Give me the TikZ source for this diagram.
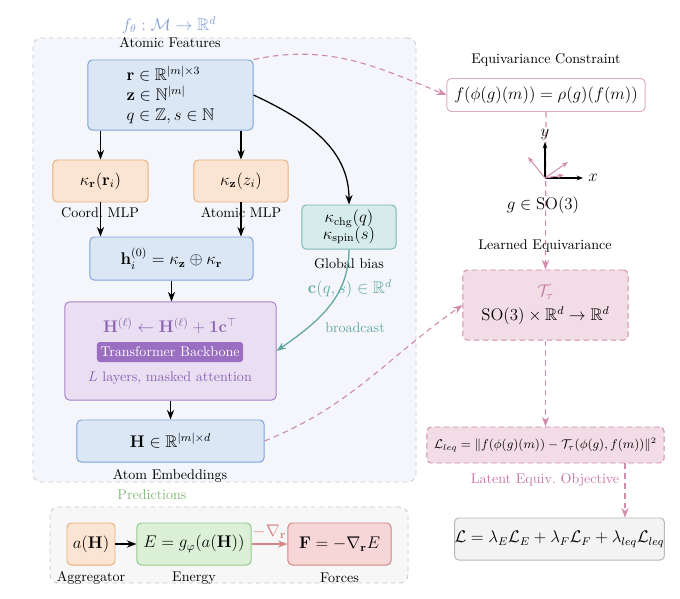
\documentclass[tikz,border=0pt]{standalone}
\usepackage{amsmath,amssymb}
\usetikzlibrary{positioning,arrows.meta,calc}

\begin{document}
\begin{tikzpicture}[x=0.025cm,y=-0.025cm,
  box/.style={draw, rounded corners=3pt, line width=0.7pt, inner sep=0pt, font=\large},
  grp/.style={draw=grpc, dashed, rounded corners=6pt, line width=0.6pt},
  conn/.style={-{Stealth[length=2.4mm]}, line width=0.9pt},
  pdash/.style={-{Stealth[length=2.4mm]}, line width=0.8pt, dash pattern=on 4pt off 3pt, draw=pinkc},
  pbox/.style={box, dash pattern=on 4pt off 2.5pt, draw=pinkc, fill=pinkf},
  lab/.style={font=\normalsize, text=black}]

\definecolor{encbg}{RGB}{244,246,251}
\definecolor{predbg}{RGB}{247,247,247}
\definecolor{grpc}{RGB}{200,200,205}
\definecolor{bluef}{RGB}{219,231,245}
\definecolor{bluec}{RGB}{126,163,214}
\definecolor{orangef}{RGB}{251,229,210}
\definecolor{orangec}{RGB}{232,176,124}
\definecolor{tealf}{RGB}{214,236,235}
\definecolor{tealc}{RGB}{122,184,181}
\definecolor{tealt}{RGB}{95,168,163}
\definecolor{purplef}{RGB}{233,222,242}
\definecolor{purplec}{RGB}{168,132,200}
\definecolor{purpleb}{RGB}{154,110,192}
\definecolor{purplet}{RGB}{140,100,180}
\definecolor{greenf}{RGB}{220,240,216}
\definecolor{greenc}{RGB}{150,200,140}
\definecolor{greent}{RGB}{130,185,120}
\definecolor{redf}{RGB}{246,214,214}
\definecolor{redc}{RGB}{212,134,134}
\definecolor{pinkc}{RGB}{208,140,172}
\definecolor{pinkb}{RGB}{222,172,196}
\definecolor{pinkf}{RGB}{242,220,230}
\definecolor{pinkt}{RGB}{200,120,165}
\definecolor{titleblue}{RGB}{130,160,215}
\definecolor{grayf}{RGB}{243,243,243}
\definecolor{grayc}{RGB}{185,185,185}

\useasboundingbox (0,0) rectangle (680,599);

% ===== GROUPS =====
\node[grp, fill=encbg, minimum width=9.575cm, minimum height=11.1cm] (enc) at (224.5,260) {};
\node[grp, fill=predbg, minimum width=8.95cm, minimum height=1.9cm] (pred) at (229,545) {};
\node[text=titleblue, font=\large] (ftitle) at (169,25) {$f_\theta:\mathcal{M}\to\mathbb{R}^d$};
\node[lab] (encl) at (170,43) {Atomic Features};

% ===== INPUTS =====
\node[box, draw=bluec, fill=bluef, minimum width=4.125cm, minimum height=1.75cm, align=left] (in) at (170.5,95)
  {$\mathbf{r}\in\mathbb{R}^{|m|\times 3}$\\$\mathbf{z}\in\mathbb{N}^{|m|}$\\$q\in\mathbb{Z}, s\in\mathbb{N}$};

% ===== EMBEDDING MLPs =====
\node[box, draw=orangec, fill=orangef, minimum width=2.375cm, minimum height=1.05cm] (kr) at (100.5,181) {$\kappa_{\mathbf{r}}(\mathbf{r}_i)$};
\node[box, draw=orangec, fill=orangef, minimum width=2.35cm, minimum height=1.05cm] (kz) at (241,181) {$\kappa_{\mathbf{z}}(z_i)$};
\node[lab] (krl) at (100,213) {Coord.\ MLP};
\node[lab] (kzl) at (241,213) {Atomic MLP};
\node[box, draw=bluec, fill=bluef, minimum width=4.075cm, minimum height=1.075cm] (h) at (171.5,258.5) {$\mathbf{h}_i^{(0)}=\kappa_{\mathbf{z}}\oplus\kappa_{\mathbf{r}}$};

% ===== GLOBAL BIAS =====
\node[box, draw=tealc, fill=tealf, minimum width=2.35cm, minimum height=1.1cm, align=center] (gb) at (349,227)
  {$\kappa_{\mathrm{chg}}(q)$\\[-2pt]$\kappa_{\mathrm{spin}}(s)$};
\node[lab] (gbl) at (349,264) {Global bias};
\node[text=tealt, font=\large] (cqs) at (350,289) {$\mathbf{c}(q,s)\in\mathbb{R}^d$};
\node[text=tealt] (bcl) at (355,328) {broadcast};

% ===== TRANSFORMER =====
\node[box, draw=purplec, fill=purplef, minimum width=5.275cm, minimum height=2.45cm] (tr) at (170.5,351) {};
\node[text=purplet, font=\large] (trupd) at (170,326) {$\mathbf{H}^{(\ell)}\leftarrow\mathbf{H}^{(\ell)}+\mathbf{1}\mathbf{c}^{\top}$};
\node[fill=purpleb, text=white, rounded corners=2pt, inner sep=0pt, minimum width=3.65cm, minimum height=0.5cm] (trname) at (170,352) {Transformer Backbone};
\node[text=purplet] (trlay) at (170,378) {$L$ layers, masked attention};

\node[box, draw=bluec, fill=bluef, minimum width=4.675cm, minimum height=1.05cm] (H) at (170.5,441) {$\mathbf{H}\in\mathbb{R}^{|m|\times d}$};
\node[lab] (Hl) at (170,476) {Atom Embeddings};

% ===== PREDICTIONS =====
\node[text=greent] (predl) at (152,495) {Predictions};
\node[box, draw=orangec, fill=orangef, minimum width=1.2cm, minimum height=1.05cm] (agg) at (91,544) {$a(\mathbf{H})$};
\node[box, draw=greenc, fill=greenf, minimum width=2.85cm, minimum height=1.05cm] (en) at (194,544) {$E=g_\varphi(a(\mathbf{H}))$};
\node[box, draw=redc, fill=redf, minimum width=2.575cm, minimum height=1.05cm] (frc) at (339.5,544) {$\mathbf{F}=-\nabla_{\mathbf{r}}E$};
\node[lab] (aggl) at (91,578) {Aggregator};
\node[lab] (enl) at (194,578) {Energy};
\node[lab] (frcl) at (339.5,578) {Forces};

% ===== EQUIVARIANCE =====
\node[lab] (consl) at (546,60) {Equivariance Constraint};
\node[box, draw=pinkb, fill=white, minimum width=4.95cm, minimum height=0.825cm] (cons) at (546,95) {$f(\phi(g)(m))=\rho(g)(f(m))$};
\node[pbox, minimum width=4.125cm, minimum height=1.75cm, align=center] (tau) at (545.5,305)
  {{\color{pinkt}$\mathcal{T}_\tau$}\\[3pt]$\mathrm{SO}(3)\times\mathbb{R}^d\to\mathbb{R}^d$};
\node[pbox, font=\small, minimum width=5.925cm, minimum height=0.9cm] (leq) at (545.5,445)
  {$\mathcal{L}_{leq}=\lVert f(\phi(g)(m))-\mathcal{T}_\tau(\phi(g),f(m))\rVert^2$};
\node[text=pinkt] (leql) at (545,480) {Latent Equiv.\ Objective};
\node[box, draw=grayc, fill=grayf, minimum width=5.075cm, minimum height=1.05cm] (loss) at (559.5,539)
  {$\mathcal{L}=\lambda_E\mathcal{L}_E+\lambda_F\mathcal{L}_F+\lambda_{leq}\mathcal{L}_{leq}$};

% ===== CONNECTIONS =====
\draw[conn] (in.south -| kr) -- (kr.north);
\draw[conn] (in.south -| kz) -- (kz.north);
\draw[conn] (kr.south) -- (h.north -| kr);
\draw[conn] (kz.south) -- (h.north -| kz);
\draw[conn] (h.south) -- (tr.north -| h.south);
\draw[conn] (tr.south) -- (H.north);
\draw[conn] (in.east) to[out=-25,in=90] (gb.north);
\draw[conn, draw=tealt] (gb.south) to[out=-90,in=35] (tr.east);
\draw[conn, line width=1.1pt] (agg) -- (en);
\draw[conn, draw=redc] (en) -- node[above, text=redc, font=\large] {$-\nabla_{\mathbf{r}}$} (frc);

% equivariance links
\draw[pdash] (in.north east) to[out=12,in=158] (cons.west);
\draw[pdash] (H.east) to[out=22,in=215] (tau.west);
\draw[pdash] (cons.south) -- (tau.north);
\draw[pdash] (tau.south) -- (leq.north);
\coordinate (lx) at (625,0);
\draw[pdash] (leq.south -| lx) -- (loss.north -| lx);

% rotated frame
\coordinate (ax) at (545,178);
\draw[-{Stealth[length=1.6mm]}, line width=0.8pt] (ax) -- ++(0,-36) node[above=-2pt, font=\large] (ylab) {$y$};
\draw[-{Stealth[length=1.6mm]}, line width=0.8pt] (ax) -- ++(38,0) node[right, font=\large] (xlab) {$x$};
\draw[-{Stealth[length=1.6mm]}, line width=0.7pt, draw=pinkc] (ax) -- ++(-17,-21);
\draw[-{Stealth[length=1.6mm]}, line width=0.7pt, draw=pinkc] (ax) -- ++(23,-16);
\draw[-{Stealth[length=1.6mm]}, line width=0.7pt, draw=pinkc] (ax) -- ++(19,-3);
\node[font=\large] (gso) at (543,205) {$g\in\mathrm{SO}(3)$};
\node[lab] (tauhl) at (545,246) {Learned Equivariance};

\end{tikzpicture}
\end{document}
